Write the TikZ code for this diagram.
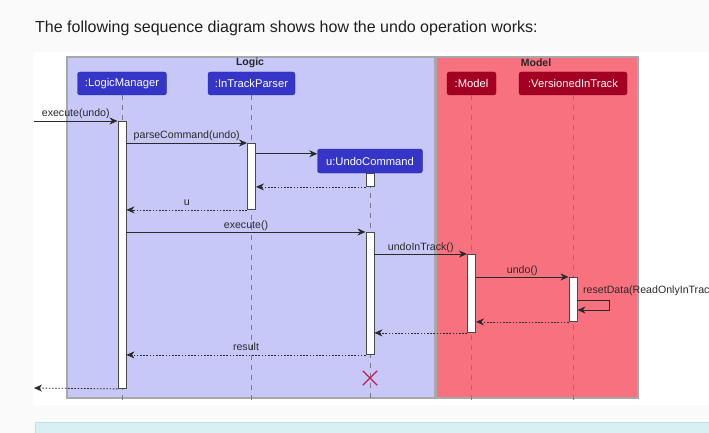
\documentclass[tikz,border=0pt]{standalone}
\usepackage{fontspec}
\setmainfont{Liberation Sans}
\usetikzlibrary{calc,arrows.meta,shapes.misc}
\definecolor{pagebg}{HTML}{FAFAFA}
\definecolor{partblue}{HTML}{3535C8}
\definecolor{partred}{HTML}{A30022}
\definecolor{logicbg}{HTML}{C8C8F8}
\definecolor{modelbg}{HTML}{F8717F}
\definecolor{framebd}{HTML}{A8A8A8}
\definecolor{xred}{HTML}{C21A4E}
\definecolor{msgcol}{HTML}{2A2A2A}
\definecolor{lifecol}{HTML}{7A7A88}
\definecolor{tipbg}{HTML}{D8EFF3}
\definecolor{tipbd}{HTML}{BDE2E9}
\tikzset{
  part/.style={rectangle, rounded corners=2.5pt, minimum height=23pt, inner sep=0pt,
    text=white, font=\fontsize{11.2}{13}\selectfont},
  bluepart/.style={part, fill=partblue, draw=partblue!80!black},
  redpart/.style={part, fill=partred, draw=partred!80!black},
  actbar/.style={rectangle, draw=msgcol!85, fill=white, line width=0.9pt, minimum width=8pt, inner sep=0pt, anchor=north},
  msg/.style={draw=msgcol, line width=0.9pt, -{Stealth[length=8pt,width=7pt,inset=2.5pt]}},
  ret/.style={draw=msgcol, line width=0.8pt, dash pattern=on 1.6pt off 1.6pt, -{Stealth[length=8pt,width=7pt,inset=2.5pt]}},
  life/.style={draw=lifecol, line width=0.8pt, dash pattern=on 5pt off 5pt},
  lbl/.style={font=\fontsize{10.6}{12}\selectfont, text=msgcol, inner sep=0pt, anchor=base, yshift=4pt},
  grp/.style={font=\bfseries\fontsize{10.5}{12}\selectfont, text=black!85, inner sep=0pt},
}
\begin{document}
\begin{tikzpicture}[x=1pt,y=-1pt]
\useasboundingbox (0,0) rectangle (709,433);
\fill[pagebg] (0,0) rectangle (709,433);
\fill[white] (33,52) rectangle (709,405);
\draw[tipbd, fill=tipbg, line width=0.8pt] (35,422) rectangle (720,440);
\node[anchor=base west, inner sep=0pt, text=black!88, font=\fontsize{16}{19}\selectfont] (title) at (35,33) {The following sequence diagram shows how the undo operation works:};
% groups
\draw[framebd, fill=logicbg, line width=1.2pt] (67,57) rectangle (435,398);
\draw[framebd, fill=modelbg, line width=1.2pt] (436,57) rectangle (638,398);
\node[grp] (glogic) at (250,63) {Logic};
\node[grp] (gmodel) at (536,63) {Model};
% participants
\node[bluepart, minimum width=89pt] (lm) at (122,83.5) {:LogicManager};
\node[bluepart, minimum width=87pt] (ps) at (251.5,83.5) {:InTrackParser};
\node[bluepart, minimum width=105pt, minimum height=24pt] (uc) at (370,161) {u:UndoCommand};
\node[redpart, minimum width=49pt] (md) at (471.5,83.5) {:Model};
\node[redpart, minimum width=108pt] (vt) at (573,83.5) {:VersionedInTrack};
\coordinate (bot) at (0,402);
% lifelines
\draw[life] (lm.south) -- (lm.south |- bot);
\draw[life] (ps.south) -- (ps.south |- bot);
\draw[life] (uc.south) -- (uc.south |- bot);
\draw[life] (md.south) -- (md.south |- bot);
\draw[life] (vt.south) -- (vt.south |- bot);
% activation bars
\node[actbar, minimum height=267pt] (lmA) at (122,121) {};
\node[actbar, minimum height=66pt] (psA) at (251.5,143) {};
\node[actbar, minimum height=13pt] (ucA1) at (370,173) {};
\node[actbar, minimum height=122pt] (ucA2) at (370,232) {};
\node[actbar, minimum height=78pt] (mdA) at (471.5,254) {};
\node[actbar, minimum height=44pt] (vtA) at (573,277) {};
% messages
\coordinate (inpt) at (34,121);
\coordinate (outpt) at (34,388);
\draw[msg] (inpt) -- node[lbl, midway] {execute(undo)} (lmA.north west);
\draw[msg] (lmA.east |- psA.north) -- node[lbl, midway] {parseCommand(undo)} (psA.north west);
\coordinate (ucin) at ($(uc.north west)+(0,5)$);
\draw[msg] (psA.east |- ucin) -- (ucin);
\draw[ret] (ucA1.south west) -- (psA.east |- ucA1.south);
\draw[ret] (psA.south west) -- node[lbl, midway] {u} (lmA.east |- psA.south);
\draw[msg] (lmA.east |- ucA2.north) -- node[lbl, midway] {execute()} (ucA2.north west);
\draw[msg] (ucA2.east |- mdA.north) -- node[lbl, midway] {undoInTrack()} (mdA.north west);
\draw[msg] (mdA.east |- vtA.north) -- node[lbl, midway] {undo()} (vtA.north west);
\draw[msg] ($(vtA.north east)+(0,23)$) -| ($(vtA.north east)+(32,33)$) -- ($(vtA.north east)+(0,33)$);
\node[lbl, anchor=base west, yshift=0pt] (rslbl) at (583,297) {resetData(ReadOnlyInTrac};
\draw[ret] (vtA.south west) -- (mdA.east |- vtA.south);
\draw[ret] (mdA.south west) -- (ucA2.east |- mdA.south);
\draw[ret] (ucA2.south west) -- node[lbl, midway] {result} (lmA.east |- ucA2.south);
\draw[ret] (lmA.south west) -- (outpt);
% destroy
\node[cross out, draw=xred, line width=1.3pt, minimum size=13pt, inner sep=0pt] (ucx) at (370,378) {};
\end{tikzpicture}
\end{document}
